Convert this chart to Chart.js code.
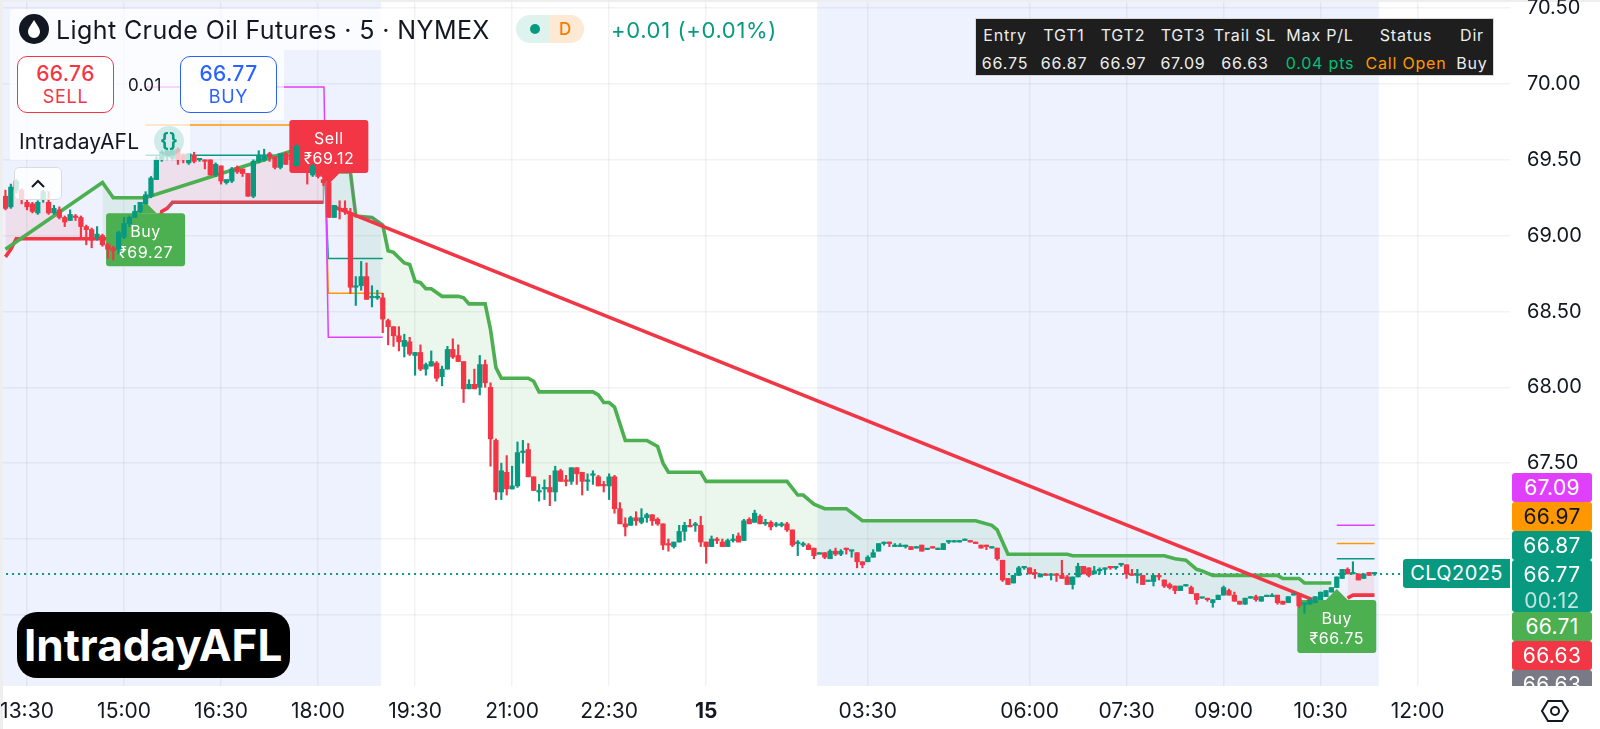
<!DOCTYPE html>
<html>
<head>
<meta charset="utf-8">
<title>Light Crude Oil Futures</title>
<script src="https://cdn.jsdelivr.net/npm/chart.js@4/dist/chart.umd.min.js"></script>
<style>
    html, body { margin: 0; padding: 0; background: #eeeeef; overflow: hidden; font-family: Inter, sans-serif; }
    #sheet { position: absolute; left: 3px; top: 2px; width: 1597px; height: 727px; background: #fff; border-top-left-radius: 8px; }
    #chart { position: absolute; left: 0; top: 0; }
    .abs { position: absolute; white-space: nowrap; }
    .box { position: absolute; width: 97px; height: 57px; top: 56px; background: #fff; border-radius: 10px; border: 1.5px solid; box-sizing: border-box; text-align: center; }
    .box b { display: block; font-weight: 500; font-size: 21px; line-height: 24px; margin-top: 5px; letter-spacing: .4px; }
    .box span { display: block; font-size: 18px; line-height: 22px; letter-spacing: .7px; }
    #tags { position: absolute; left: 1510px; top: 0; width: 90px; height: 686px; overflow: hidden; }
    .tag { position: absolute; left: 2px; width: 80px; border-radius: 3px; color: #fff; text-align: center; font-size: 21px; line-height: 29px; letter-spacing: .3px; }
    #stats { position: absolute; left: 975px; top: 18px; width: 519px; height: 58px; background: #1e1e1e; border: 1px solid #d8d8d8; box-sizing: border-box; color: #eee; font-size: 16px; letter-spacing: .8px; }
    #stats div { position: absolute; transform: translateX(-50%); white-space: nowrap; }
</style>
</head>
<body>
<div id="sheet"></div>
<canvas id="chart" width="1600" height="729"></canvas>

<div class="abs" style="left:10px;top:9px;width:372px;height:41px;background:rgba(255,255,255,.72)"></div>
<div class="abs" style="left:10px;top:50px;width:274px;height:70px;background:rgba(255,255,255,.72)"></div>
<div class="abs" style="left:10px;top:120px;width:180px;height:40px;background:rgba(255,255,255,.72)"></div>

<svg class="abs" style="left:19px;top:14px" width="30" height="30" viewBox="0 0 30 30">
    <circle cx="15" cy="15" r="15" fill="#131722"/>
    <path d="M15 6 C18 11 21 14 21 18 A6 6 0 0 1 9 18 C9 14 12 11 15 6Z" fill="#fff"/>
</svg>
<div class="abs" style="left:56px;top:14px;font-size:25px;line-height:32px;color:#131722;letter-spacing:.4px">Light Crude Oil Futures · 5 · NYMEX</div>

<div class="abs" style="left:516px;top:15px;width:34px;height:28px;background:#dff3ee;border-radius:14px 0 0 14px"></div>
<div class="abs" style="left:550px;top:15px;width:34px;height:28px;background:#fde9d4;border-radius:0 14px 14px 0"></div>
<div class="abs" style="left:530px;top:24px;width:10px;height:10px;background:#089981;border-radius:50%"></div>
<div class="abs" style="left:559px;top:18px;font-size:17px;line-height:22px;font-weight:500;color:#f57c00">D</div>
<div class="abs" style="left:611px;top:16px;font-size:22px;line-height:28px;color:#089981;letter-spacing:.65px">+0.01 (+0.01%)</div>

<div class="box" style="left:17px;border-color:#f23645;color:#f23645"><b>66.76</b><span>SELL</span></div>
<div class="abs" style="left:128px;top:74px;font-size:17px;line-height:22px;color:#131722;letter-spacing:.3px">0.01</div>
<div class="box" style="left:180px;border-color:#2962ff;color:#2962ff"><b>66.77</b><span>BUY</span></div>

<div class="abs" style="left:19px;top:129px;font-size:21px;line-height:26px;color:#131722;letter-spacing:.2px">IntradayAFL</div>
<div class="abs" style="left:154px;top:126px;width:30px;height:30px;border-radius:50%;background:rgba(8,153,129,.17);color:#089981;font-size:19px;line-height:29px;font-weight:700;text-align:center">{}</div>
<div class="abs" style="left:14px;top:167px;width:48px;height:33px;box-sizing:border-box;background:rgba(255,255,255,.8);border:1px solid #dcdcdc;border-radius:5px">
    <svg width="46" height="31" viewBox="0 0 46 31"><path d="M17 19 L23 13 L29 19" fill="none" stroke="#131722" stroke-width="2"/></svg>
</div>

<div id="stats"></div>
<div id="tags"></div>
<div class="abs" style="left:1403px;top:559px;width:107px;height:29px;background:#089981;border-radius:3px 0 0 3px;color:#fff;font-size:20px;line-height:29px;text-align:center;letter-spacing:.4px">CLQ2025</div>

<div class="abs" style="left:17px;top:612px;width:273px;height:66px;background:#000;border-radius:20px;color:#fff;font-size:44px;line-height:66px;font-weight:700;text-indent:7px">IntradayAFL</div>

<svg class="abs" style="left:1540px;top:696px" width="30" height="30" viewBox="0 0 30 30">
    <path d="M8 5 H22 L28 15 L22 25 H8 L2 15Z" fill="none" stroke="#131722" stroke-width="2"/>
    <circle cx="15" cy="15" r="4" fill="none" stroke="#131722" stroke-width="2"/>
</svg>

<script>
// 5 minute bars
const opens = [
    69.26,69.19,69.30,69.30,69.22,69.21,69.15,69.24,69.22,69.15,
    69.17,69.12,69.10,69.13,69.12,69.06,69.04,68.99,69.00,68.94,
    68.92,68.91,68.99,69.08,69.12,69.16,69.21,69.26,69.37,69.50,
    69.52,69.51,69.57,69.53,69.48,69.53,69.50,69.50,69.50,69.40,
    69.46,69.35,69.36,69.45,69.44,69.41,69.26,69.49,69.50,69.54,
    69.52,69.45,69.54,69.53,69.46,69.57,69.45,69.40,69.42,69.37,
    69.35,69.12,69.18,69.18,69.15,68.66,68.67,68.73,68.59,68.59,
    68.59,68.44,68.40,68.34,68.27,68.30,68.21,68.23,68.12,68.14,
    68.16,68.07,68.12,68.25,68.21,68.17,67.99,68.02,68.00,68.15,
    68.00,67.65,67.31,67.44,67.33,67.35,67.57,67.59,67.41,67.31,
    67.33,67.34,67.31,67.45,67.39,67.38,67.47,67.44,67.38,67.42,
    67.41,67.36,67.35,67.41,67.20,67.10,67.09,67.14,67.11,67.14,
    67.16,67.13,67.10,66.97,66.95,66.98,67.05,67.09,67.09,67.09,
    66.98,66.95,67.00,66.98,66.95,66.99,67.02,66.99,67.13,67.11,
    67.15,67.10,67.11,67.09,67.09,67.10,67.06,66.97,66.96,66.96,
    66.94,66.90,66.91,66.87,66.92,66.90,66.94,66.92,66.91,66.85,
    66.85,66.88,66.92,66.97,66.98,66.95,66.95,66.95,66.95,66.94,
    66.96,66.93,66.95,66.93,66.93,66.98,66.98,66.98,66.99,66.99,
    66.98,66.96,66.96,66.94,66.94,66.86,66.74,66.71,66.76,66.81,
    66.81,66.78,66.75,66.77,66.76,66.77,66.76,66.75,66.70,66.75,
    66.82,66.81,66.77,66.79,66.80,66.82,66.81,66.83,66.83,66.77,
    66.76,66.76,66.72,66.72,66.76,66.73,66.70,66.69,66.66,66.69,
    66.68,66.64,66.61,66.61,66.58,66.60,66.63,66.66,66.63,66.59,
    66.57,66.61,66.62,66.59,66.62,66.62,66.63,66.59,66.58,66.63,
    66.64,66.57,66.57,66.58,66.60,66.62,66.65,66.68,66.74,66.80,
    66.77,66.77,66.74,66.78,66.77
];
const highs = [
    69.30,69.34,69.37,69.31,69.24,69.22,69.23,69.30,69.29,69.20,
    69.19,69.13,69.17,69.14,69.13,69.07,69.05,69.06,69.01,68.95,
    68.93,69.03,69.12,69.13,69.20,69.22,69.29,69.39,69.52,69.56,
    69.58,69.57,69.58,69.54,69.54,69.55,69.51,69.50,69.50,69.48,
    69.46,69.37,69.45,69.46,69.44,69.41,69.50,69.56,69.57,69.55,
    69.52,69.54,69.55,69.55,69.60,69.59,69.46,69.47,69.43,69.38,
    69.36,69.20,69.23,69.23,69.18,68.73,68.83,68.82,68.67,68.64,
    68.62,68.45,68.40,68.40,68.35,68.33,68.23,68.28,68.16,68.24,
    68.17,68.14,68.27,68.32,68.28,68.17,68.05,68.12,68.21,68.18,
    68.03,67.66,67.50,67.55,67.48,67.64,67.65,67.63,67.41,67.36,
    67.39,67.42,67.48,67.46,67.42,67.47,67.47,67.44,67.43,67.45,
    67.42,67.38,67.43,67.42,67.24,67.14,67.15,67.18,67.20,67.17,
    67.16,67.14,67.10,67.00,66.98,67.09,67.11,67.13,67.11,67.15,
    66.98,67.02,67.01,67.00,67.00,67.03,67.04,67.13,67.14,67.19,
    67.16,67.13,67.12,67.11,67.11,67.11,67.06,66.99,66.98,66.97,
    66.94,66.91,66.91,66.93,66.94,66.93,66.94,66.92,66.91,66.85,
    66.89,66.93,66.97,66.98,66.98,66.97,66.97,66.96,66.95,66.95,
    66.96,66.93,66.95,66.94,66.97,66.99,66.99,66.99,67.00,66.99,
    66.98,66.96,66.96,66.95,66.94,66.86,66.74,66.76,66.82,66.82,
    66.81,66.80,66.77,66.77,66.76,66.77,66.86,66.76,66.75,66.84,
    66.82,66.81,66.82,66.81,66.81,66.82,66.82,66.83,66.83,66.80,
    66.80,66.76,66.72,66.76,66.77,66.73,66.71,66.69,66.69,66.70,
    66.69,66.64,66.61,66.61,66.60,66.63,66.69,66.67,66.65,66.59,
    66.61,66.62,66.63,66.62,66.63,66.64,66.63,66.59,66.62,66.64,
    66.64,66.57,66.60,66.62,66.65,66.66,66.68,66.75,66.80,66.81,
    66.85,66.77,66.77,66.78,66.78
];
const lows = [
    69.17,69.18,69.28,69.21,69.17,69.15,69.14,69.22,69.14,69.14,
    69.11,69.06,69.10,69.10,68.99,68.94,68.92,68.97,68.93,68.85,
    68.84,68.88,68.98,69.06,69.12,69.15,69.21,69.25,69.37,69.49,
    69.50,69.50,69.47,69.48,69.47,69.48,69.49,69.44,69.40,69.39,
    69.34,69.34,69.35,69.41,69.39,69.26,69.25,69.48,69.49,69.49,
    69.44,69.44,69.47,69.48,69.46,69.44,69.34,69.39,69.38,69.33,
    69.12,69.12,69.11,69.14,68.62,68.54,68.64,68.58,68.53,68.58,
    68.36,68.28,68.27,68.24,68.20,68.21,68.08,68.11,68.08,68.14,
    68.04,68.01,68.12,68.19,68.17,67.90,67.99,67.99,67.95,68.00,
    67.48,67.26,67.26,67.29,67.33,67.34,67.50,67.41,67.32,67.25,
    67.26,67.22,67.25,67.38,67.35,67.36,67.36,67.29,67.32,67.36,
    67.35,67.31,67.26,67.17,67.10,67.02,67.09,67.09,67.10,67.11,
    67.09,67.09,66.93,66.92,66.94,66.98,66.99,67.08,67.05,66.95,
    66.84,66.95,66.97,66.95,66.95,66.98,66.98,66.99,67.10,67.11,
    67.10,67.09,67.06,67.08,67.08,67.05,66.95,66.89,66.95,66.93,
    66.87,66.90,66.87,66.87,66.89,66.89,66.90,66.88,66.81,66.81,
    66.85,66.88,66.92,66.96,66.95,66.95,66.95,66.94,66.93,66.94,
    66.92,66.93,66.94,66.93,66.93,66.97,66.98,66.98,66.99,66.98,
    66.97,66.94,66.93,66.94,66.86,66.72,66.70,66.71,66.76,66.80,
    66.77,66.74,66.75,66.76,66.73,66.72,66.74,66.70,66.67,66.75,
    66.77,66.75,66.77,66.77,66.77,66.80,66.80,66.82,66.74,66.76,
    66.71,66.70,66.72,66.69,66.73,66.68,66.67,66.64,66.66,66.69,
    66.64,66.57,66.61,66.59,66.55,66.60,66.63,66.63,66.59,66.57,
    66.57,66.61,66.59,66.59,66.62,66.62,66.57,66.57,66.58,66.63,
    66.55,66.51,66.57,66.58,66.60,66.62,66.65,66.68,66.74,66.77,
    66.77,66.73,66.74,66.76,66.76
];
const closes = [
    69.18,69.32,69.36,69.24,69.19,69.16,69.22,69.29,69.15,69.18,
    69.12,69.09,69.14,69.12,69.06,69.04,68.97,69.01,68.94,68.91,
    68.90,69.02,69.08,69.12,69.16,69.22,69.27,69.38,69.50,69.55,
    69.56,69.56,69.50,69.50,69.54,69.49,69.51,69.49,69.40,69.47,
    69.36,69.37,69.44,69.42,69.41,69.26,69.49,69.53,69.53,69.52,
    69.45,69.54,69.47,69.50,69.59,69.46,69.42,69.46,69.39,69.35,
    69.12,69.20,69.17,69.16,68.66,68.67,68.73,68.58,68.60,68.60,
    68.45,68.40,68.34,68.30,68.31,68.22,68.23,68.12,68.15,68.17,
    68.06,68.12,68.25,68.20,68.17,67.99,68.02,67.99,68.15,68.03,
    67.66,67.31,67.45,67.33,67.35,67.57,67.58,67.41,67.32,67.32,
    67.34,67.31,67.45,67.38,67.38,67.47,67.43,67.38,67.39,67.43,
    67.35,67.35,67.41,67.20,67.10,67.08,67.14,67.12,67.14,67.16,
    67.12,67.10,66.96,66.96,66.98,67.05,67.09,67.08,67.10,66.98,
    66.95,67.00,66.99,66.95,66.99,67.00,66.98,67.12,67.10,67.17,
    67.10,67.11,67.08,67.10,67.10,67.06,66.96,66.98,66.97,66.93,
    66.89,66.91,66.88,66.92,66.90,66.92,66.93,66.92,66.85,66.83,
    66.88,66.91,66.97,66.97,66.97,66.95,66.96,66.95,66.93,66.95,
    66.92,66.93,66.94,66.93,66.97,66.98,66.99,66.99,66.99,66.98,
    66.97,66.94,66.95,66.94,66.87,66.73,66.70,66.76,66.81,66.81,
    66.77,66.77,66.77,66.76,66.76,66.76,66.74,66.70,66.75,66.82,
    66.77,66.76,66.79,66.80,66.81,66.81,66.82,66.83,66.77,66.76,
    66.77,66.70,66.72,66.76,66.75,66.69,66.68,66.66,66.69,66.69,
    66.64,66.60,66.61,66.60,66.60,66.63,66.68,66.63,66.59,66.57,
    66.61,66.62,66.60,66.62,66.62,66.63,66.58,66.57,66.62,66.63,
    66.56,66.57,66.60,66.62,66.65,66.66,66.68,66.75,66.80,66.77,
    66.78,66.73,66.77,66.76,66.77
];

// x axis
const tickBars = [4, 22, 40, 58, 76, 94, 112, 130, 160, 190, 208, 226, 244, 262];
const tickLabels = ["13:30", "15:00", "16:30", "18:00", "19:30", "21:00", "22:30", "15", "03:30", "06:00", "07:30", "09:00", "10:30", "12:00"];
const priceTicks = [66.5, 67, 67.5, 68, 68.5, 69, 69.5, 70, 70.5];

// highlighted sessions, in bars
const sessionRanges = [[-1, 69.7], [150.6, 254.8]];

// trailing stop above price, short side
const stopBars = [60, 64, 65, 68, 70, 71, 72, 74, 75, 76, 77, 78, 79, 81, 84, 85, 86, 89, 90, 91, 92, 97, 98, 99, 109, 110, 111, 112, 113, 115, 119, 121, 122, 123, 129, 130, 145, 147, 148, 150, 152, 156, 159, 180, 183, 184, 186, 197, 198, 215, 217, 219, 221, 222, 224, 236, 237, 240, 241, 246];
const stopPrices = [69.42, 69.42, 69.13, 69.12, 69.07, 68.90, 68.89, 68.82, 68.81, 68.70, 68.69, 68.65, 68.65, 68.60, 68.60, 68.59, 68.55, 68.55, 68.38, 68.13, 68.06, 68.06, 68.04, 67.97, 67.97, 67.95, 67.90, 67.90, 67.87, 67.65, 67.65, 67.61, 67.50, 67.44, 67.44, 67.38, 67.38, 67.29, 67.29, 67.23, 67.20, 67.20, 67.12, 67.12, 67.09, 67.06, 66.90, 66.90, 66.89, 66.89, 66.87, 66.86, 66.80, 66.79, 66.76, 66.76, 66.74, 66.74, 66.71, 66.71];

// rising green line on the left
const riseBars = [0, 18, 20, 26, 55];
const risePrices = [68.91, 69.35, 69.25, 69.25, 69.58];

// support under price, long side
const supportBars = [0, 1, 2, 28, 29, 30, 31, 59];
const supportPrices = [68.86, 68.91, 68.98, 68.98, 69.16, 69.18, 69.22, 69.22];
const lastSupportBars = [249, 250, 254];
const lastSupportPrices = [66.61, 66.63, 66.63];

// grey trail sitting on top of the stop lines
const trailBars = [30, 31, 59, 59, 64, 65, 68, 70];
const trailPrices = [69.18, 69.22, 69.22, 69.43, 69.42, 69.13, 69.12, 69.07];

// red line from sell to the last buy
const tradeBars = [61, 242.5];
const tradePrices = [69.19, 66.60];

// target levels, null breaks the line
const targetBars = [26, 59.1, 59.9, 70, 71, 247, 254];
const target3 = [69.98, 69.98, 68.33, 68.33, null, 67.09, 67.09];
const target2 = [69.73, 69.73, 68.62, 68.62, null, 66.97, 66.97];
const target1 = [69.53, 69.53, 68.85, 68.85, null, 66.87, 66.87];

const lastPrice = 66.77;

// signals
const signalTypes = ["Buy", "Sell", "Buy"];
const signalBars = [26, 60, 247];
const signalTips = [69.22, 69.34, 66.67];
const signalLabels = ["₹69.27", "₹69.12", "₹66.75"];

// right side tags
const tagValues = ["67.09", "66.97", "66.87", "66.77", "66.71", "66.63", "66.63"];
const tagColors = ["#e040fb", "#ff9800", "#089981", "#089981", "#4caf50", "#f23645", "#787b86"];
const tagTops = [473, 502, 531, 560, 612, 641, 670];

// table top right
const statHeaders = ["Entry", "TGT1", "TGT2", "TGT3", "Trail SL", "Max P/L", "Status", "Dir"];
const statValues = ["66.75", "66.87", "66.97", "67.09", "66.63", "0.04 pts", "Call Open", "Buy"];
const statColors = ["#eee", "#eee", "#eee", "#eee", "#eee", "#00c176", "#ff9800", "#eee"];
const statCenters = [29, 88, 147, 207, 269, 344, 430, 496];

const teal = "#089981";
const red = "#f23645";
const green = "#4caf50";
const magenta = "#e040fb";
const orange = "#ff9800";

function toPoints(bars, prices) {
    return bars.map((bar, i) => ({ x: bar, y: prices[i] }));
}

const barIndex = closes.map((_, i) => i);
const candleColors = closes.map((c, i) => (c < opens[i] ? red : teal));

function lineDataset(label, data, color, width, order, extra) {
    return Object.assign({
        type: "line",
        label,
        data,
        borderColor: color,
        borderWidth: width,
        pointRadius: 0,
        tension: 0,
        fill: false,
        order
    }, extra || {});
}

const sessionPlugin = {
    id: "sessions",
    beforeDraw(chart) {
        const { ctx, chartArea, scales } = chart;
        ctx.save();
        ctx.fillStyle = "#eef2ff";
        sessionRanges.forEach((range) => {
            const left = Math.max(scales.x.getPixelForValue(range[0]), chartArea.left);
            const right = scales.x.getPixelForValue(range[1]);
            ctx.fillRect(left, chartArea.top, right - left, chartArea.bottom - chartArea.top);
        });
        ctx.restore();
    }
};

// buy and sell flags go between the lines and the candles
const signalPlugin = {
    id: "signals",
    afterDatasetDraw(chart, args) {
        if (chart.data.datasets[args.index].label !== "trade") return;
        const { ctx, scales } = chart;
        const w = 79, h = 53, arrow = 11;
        ctx.save();
        ctx.textAlign = "center";
        ctx.textBaseline = "middle";
        signalTypes.forEach((type, i) => {
            const x = scales.x.getPixelForValue(signalBars[i]);
            const tip = scales.y.getPixelForValue(signalTips[i]);
            const isBuy = type === "Buy";
            const top = isBuy ? tip + arrow : tip - arrow - h;
            const edge = isBuy ? top : top + h;
            ctx.fillStyle = isBuy ? green : red;
            ctx.beginPath();
            ctx.roundRect(x - w / 2, top, w, h, 3);
            ctx.fill();
            ctx.beginPath();
            ctx.moveTo(x - arrow, edge);
            ctx.lineTo(x, tip);
            ctx.lineTo(x + arrow, edge);
            ctx.fill();
            ctx.fillStyle = "#fff";
            ctx.font = "16px Inter, sans-serif";
            ctx.letterSpacing = "0.6px";
            ctx.fillText(type, x, top + 19);
            ctx.fillText(signalLabels[i], x, top + 39.5);
        });
        ctx.restore();
    }
};

Chart.defaults.font.family = "Inter, sans-serif";

new Chart(document.getElementById("chart"), {
    type: "bar",
    data: {
        datasets: [
            // close series, only used as the edge of the fills
            lineDataset("closeEdge", toPoints(barIndex, closes), "transparent", 0, 20),
            lineDataset("stop", toPoints(stopBars, stopPrices), green, 3.6, 9, { fill: 0, backgroundColor: "rgba(76,175,80,.11)" }),
            lineDataset("riseEdge", toPoints(riseBars.slice(1, 4), risePrices.slice(1, 4)), "transparent", 0, 19, { fill: 0, backgroundColor: "rgba(76,175,80,.11)" }),
            lineDataset("rise", toPoints(riseBars, risePrices), green, 3.6, 9),
            lineDataset("support", toPoints(supportBars, supportPrices), red, 3.6, 10, { fill: 0, backgroundColor: "rgba(242,54,69,.1)" }),
            lineDataset("lastSupport", toPoints(lastSupportBars, lastSupportPrices), red, 3.6, 10, { fill: 0, backgroundColor: "rgba(242,54,69,.1)" }),
            lineDataset("trail", toPoints(trailBars, trailPrices), "rgba(120,123,134,.65)", 1.5, 8),
            lineDataset("target3", toPoints(targetBars, target3), magenta, 1.5, 12),
            lineDataset("target2", toPoints(targetBars, target2), orange, 1.5, 12),
            lineDataset("target1", toPoints(targetBars, target1), teal, 1.5, 12),
            lineDataset("last", toPoints([-1, 280], [lastPrice, lastPrice]), teal, 2, 13, { borderDash: [2, 4] }),
            lineDataset("trade", toPoints(tradeBars, tradePrices), red, 3.6, 4),
            {
                label: "wicks",
                data: barIndex.map((i) => ({ x: i, y: [lows[i], highs[i]] })),
                backgroundColor: candleColors,
                barThickness: 1.5,
                grouped: false,
                order: 2
            },
            {
                label: "bodies",
                data: barIndex.map((i) => ({ x: i, y: [Math.min(opens[i], closes[i]), Math.max(opens[i], closes[i])] })),
                backgroundColor: candleColors,
                barThickness: 4.6,
                minBarLength: 1.5,
                grouped: false,
                order: 1
            }
        ]
    },
    options: {
        responsive: false,
        animation: false,
        layout: { padding: { left: 3, top: 2 } },
        plugins: {
            legend: { display: false },
            tooltip: { enabled: false }
        },
        scales: {
            x: {
                type: "linear",
                offset: false,
                min: -0.453,
                max: 279.14,
                border: { display: false },
                grid: { offset: false, color: "rgba(42,46,57,.06)", lineWidth: 1.5, drawTicks: false },
                afterBuildTicks(scale) {
                    scale.ticks = tickBars.map((value) => ({ value }));
                },
                afterFit(scale) {
                    scale.height = 43;
                    scale.paddingLeft = 0;
                    scale.paddingRight = 0;
                },
                ticks: {
                    autoSkip: false,
                    maxRotation: 0,
                    padding: 13,
                    color: "#131722",
                    font: (ctx) => ({ size: 21, weight: ctx.index === 7 ? "bold" : "normal" }),
                    callback: (value, index) => tickLabels[index]
                }
            },
            y: {
                type: "linear",
                position: "right",
                min: 66.0309,
                max: 70.5406,
                border: { display: false },
                grid: { color: "rgba(42,46,57,.06)", lineWidth: 1.5, drawTicks: false },
                afterBuildTicks(scale) {
                    scale.ticks = priceTicks.map((value) => ({ value }));
                },
                afterFit(scale) {
                    scale.width = 90;
                    scale.paddingTop = 0;
                    scale.paddingBottom = 0;
                },
                ticks: {
                    padding: 17,
                    crossAlign: "near",
                    color: "#131722",
                    font: { size: 20 },
                    callback: (value) => value.toFixed(2)
                }
            }
        }
    },
    plugins: [sessionPlugin, signalPlugin]
});

const tags = document.getElementById("tags");
tagValues.forEach((value, i) => {
    const tag = document.createElement("div");
    tag.className = "tag";
    tag.style.top = tagTops[i] + "px";
    tag.style.background = tagColors[i];
    tag.style.height = (i === 3 ? 52 : 29) + "px";
    if (i === 1) tag.style.color = "#131722";
    tag.textContent = value;
    if (i === 3) {
        const timer = document.createElement("div");
        timer.textContent = "00:12";
        timer.style.cssText = "opacity:.75;line-height:23px";
        tag.appendChild(timer);
    }
    tags.appendChild(tag);
});

const stats = document.getElementById("stats");
statHeaders.forEach((text, i) => {
    const head = document.createElement("div");
    head.textContent = text;
    head.style.left = statCenters[i] + "px";
    head.style.top = "6px";
    stats.appendChild(head);

    const value = document.createElement("div");
    value.textContent = statValues[i];
    value.style.left = statCenters[i] + "px";
    value.style.top = "34px";
    value.style.color = statColors[i];
    stats.appendChild(value);
});
</script>
</body>
</html>
